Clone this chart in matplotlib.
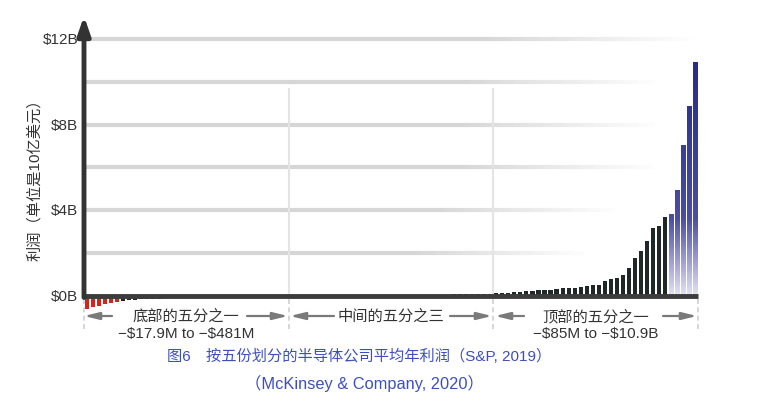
import numpy as np
import matplotlib.pyplot as plt
from matplotlib.colors import LinearSegmentedColormap, to_rgba
from matplotlib.collections import LineCollection

plt.rcParams['font.family'] = ['Liberation Sans', 'Noto Sans CJK SC', 'DejaVu Sans']
plt.rcParams['text.parse_math'] = False

# average annual profit per company, $B, sorted
bottom_quintile = [-0.62, -0.54, -0.47, -0.40, -0.34, -0.29, -0.25, -0.22, -0.20, -0.18,
                   -0.17, -0.16, -0.15, -0.14, -0.13, -0.12, -0.11, -0.10, -0.095, -0.09,
                   -0.085, -0.08, -0.075, -0.07, -0.065, -0.06, -0.055, -0.05, -0.045, -0.04,
                   -0.035, -0.030, -0.025, -0.020]
middle_quintiles = [-0.014, -0.012, -0.010, -0.008, -0.006, -0.004, -0.002, 0.000, 0.002, 0.004,
                    0.006, 0.008, 0.010, 0.012, 0.014, 0.016, 0.018, 0.020, 0.022, 0.025,
                    0.028, 0.031, 0.034, 0.037, 0.040, 0.043, 0.046, 0.050, 0.054, 0.058,
                    0.062, 0.066, 0.072, 0.080]
top_quintile = [0.10, 0.12, 0.13, 0.15, 0.18, 0.20, 0.21, 0.25, 0.26, 0.27,
                0.31, 0.34, 0.35, 0.37, 0.42, 0.46, 0.48, 0.51, 0.70, 0.76,
                0.81, 0.98, 1.31, 1.74, 2.10, 2.56, 3.17, 3.26, 3.66, 3.84,
                4.94, 7.04, 8.88, 10.92]

tick_values = [0, 4, 8, 12]
tick_labels = ['$0B', '$4B', '$8B', '$12B']
grid_values = [2, 4, 6, 8, 10, 12]
section_titles = ['底部的五分之一', '中间的五分之三', '顶部的五分之一']
section_ranges = ['−$17.9M to −$481M', '', '−$85M to −$10.9B']
y_label = '利润（单位是10亿美元）'
caption1 = '图6　按五份划分的半导体公司平均年利润（S&P, 2019）'
caption2 = '（McKinsey & Company, 2020）'

profits = bottom_quintile + middle_quintiles + top_quintile
n = len(profits)
x = np.arange(n)
n_red = 6
n_blue = 5

W, H = 758, 410
fig = plt.figure(figsize=(W / 100, H / 100), dpi=100)
ax = fig.add_axes([84 / W, 92.15 / H, 614 / W, 303.15 / H])
ax.set_xlim(-0.5, n - 0.5)
ax.set_ylim(-1.0, 13.2)
ax.axis('off')

px_per_x = 614 / n


def px2x(px):
    return (px - 84) / px_per_x - 0.5


def py2y(py):
    return (296.5 - py) / 21.35


# fading grid lines
grid_ends = {2: 590, 4: 620, 6: 660, 8: 660, 10: 660, 12: 695}
for g in grid_values:
    xe = px2x(grid_ends[g])
    xs = np.linspace(-0.5, xe, 80)
    segs = [[(xs[i], g), (xs[i + 1], g)] for i in range(len(xs) - 1)]
    mid = (xs[:-1] + xs[1:]) / 2
    alpha = np.clip((xe - mid) / (0.35 * (xe + 0.5)), 0, 1)
    cols = [to_rgba('#d6d6d6', a) for a in alpha]
    ax.add_collection(LineCollection(segs, colors=cols, linewidths=3, zorder=1,
                                     capstyle='butt'))

# section dividers
bounds = [-0.5, len(bottom_quintile) - 0.5,
          len(bottom_quintile) + len(middle_quintiles) - 0.5, n - 0.5]
for b in bounds[1:3]:
    ax.plot([b, b], [0, py2y(90)], color='#e4e4e4', lw=1.5, zorder=1)
for b in bounds:
    ax.plot([b, b], [-0.15, py2y(332)], color='#cfcfcf', lw=1.2,
            ls=(0, (3, 2)), zorder=1, clip_on=False)

# bars
colors = []
for i in range(n):
    if i < n_red:
        colors.append('#d6231b')
    elif i >= n - n_blue:
        colors.append('none')
    else:
        colors.append('#1f2727')
bw = 0.68
ax.bar(x, profits, width=bw, color=colors, zorder=3, clip_on=False)

blue_cmap = LinearSegmentedColormap.from_list(
    'blue_fade', [(0, '#e4e2f4'), (0.14, '#a3a1d4'), (0.33, '#4a4ea3'), (1, '#272c8a')])
for i in range(n - n_blue, n):
    h = profits[i]
    vals = np.linspace(0, h, 200).reshape(-1, 1)
    ax.imshow(vals, cmap=blue_cmap, vmin=0, vmax=11, origin='lower', aspect='auto',
              extent=(i - bw / 2, i + bw / 2, 0, h), zorder=3, interpolation='bilinear')
ax.set_xlim(-0.5, n - 0.5)
ax.set_ylim(-1.0, 13.2)

# axes
ax.plot([-0.5, n - 0.5], [0, 0], color='#3c3c3c', lw=3.5, zorder=5,
        solid_capstyle='butt', clip_on=False)
ax.annotate('', xy=(-0.5, py2y(17)), xytext=(-0.5, -0.09),
            arrowprops=dict(arrowstyle='-|>,head_length=1.1,head_width=0.38',
                            color='#333333', lw=3.5, shrinkA=0, shrinkB=0),
            zorder=6, annotation_clip=False)

for v, lab in zip(tick_values, tick_labels):
    ax.text(px2x(78), v, lab, ha='right', va='center', fontsize=11,
            color='#333333', clip_on=False)

fig.text(35 / W, 1 - 176 / H, y_label, rotation=90, ha='center', va='center',
         fontsize=11, color='#333333')

# section labels with arrows
arrow_px = [((112, 84), (247, 288)), ((334, 290), (450, 492)), ((524, 495), (663, 697))]
for k in range(3):
    cx = (bounds[k] + bounds[k + 1]) / 2
    ax.text(cx, py2y(317), section_titles[k], ha='center', va='center',
            fontsize=11, color='#333333', clip_on=False)
    if section_ranges[k]:
        ax.text(cx, py2y(334), section_ranges[k], ha='center', va='center',
                fontsize=11, color='#333333', clip_on=False)
    for tail, head in arrow_px[k]:
        ax.annotate('', xy=(px2x(head), py2y(317)), xytext=(px2x(tail), py2y(317)),
                    arrowprops=dict(arrowstyle='-|>,head_length=0.9,head_width=0.22',
                                    color='#7a7a7a', lw=1.6, shrinkA=0, shrinkB=0),
                    annotation_clip=False)

fig.text(359 / W, 1 - 356 / H, caption1, ha='center', va='center',
         fontsize=11, color='#3d4fc0')
fig.text(364 / W, 1 - 383 / H, caption2, ha='center', va='center',
         fontsize=11.8, color='#3d4fc0')

fig.savefig('out.png', dpi=100)
